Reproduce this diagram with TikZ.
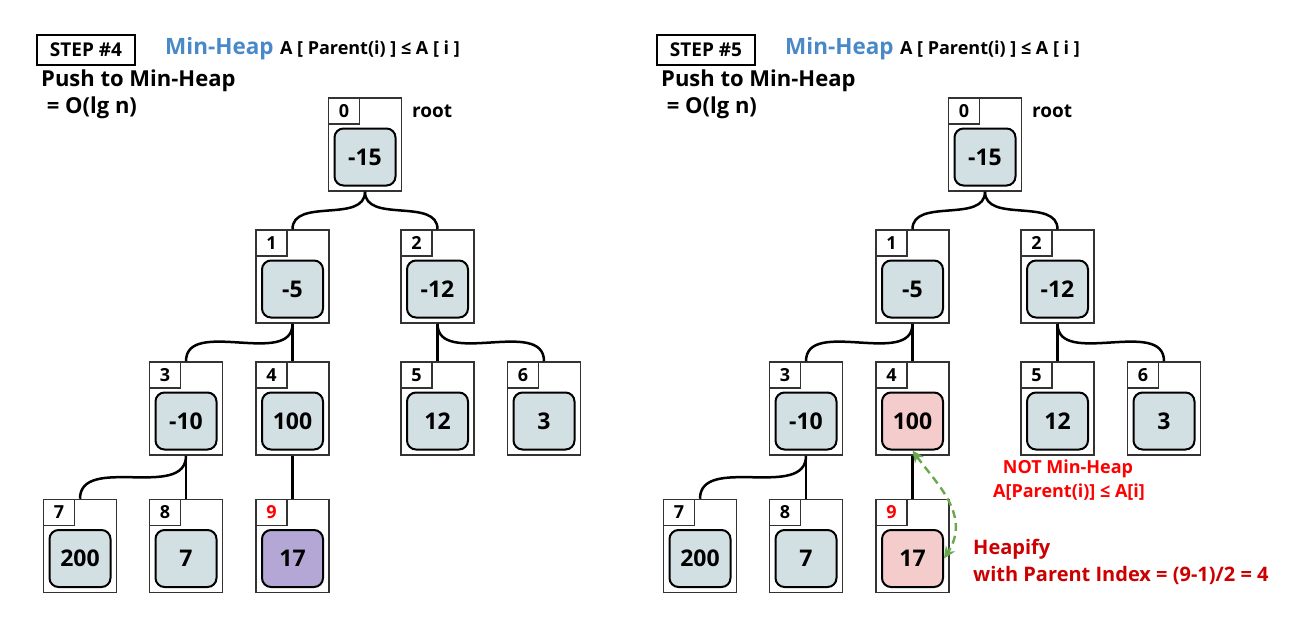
\documentclass[tikz,border=0pt]{standalone}
\usepackage{fontspec}
\setmainfont{Open Sans}
\usetikzlibrary{positioning,arrows.meta}

\definecolor{cellgray}{HTML}{D2DFE3}
\definecolor{pushed}{HTML}{B4A7D6}
\definecolor{swapped}{HTML}{F4CCCC}
\definecolor{heapblue}{HTML}{4A89C8}
\definecolor{heapred}{HTML}{CC0000}
\definecolor{heapgreen}{HTML}{6AA84F}

\tikzset{
  cell/.style={draw=black!80, line width=1.5pt, minimum width=73pt, minimum height=93pt, inner sep=0pt},
  idx/.style={draw=black!80, line width=1.5pt, minimum width=31pt, minimum height=26pt, inner sep=0pt, anchor=north west, font=\bfseries\fontsize{18}{18}\selectfont},
  val/.style={draw, line width=2pt, rounded corners=9pt, minimum width=61pt, minimum height=57pt, inner sep=0pt, font=\bfseries\fontsize{23}{23}\selectfont},
  link/.style={line width=2.5pt},
  stepbox/.style={draw, line width=1.5pt, minimum width=98pt, minimum height=30pt, font=\bfseries\fontsize{19}{19}\selectfont},
  title/.style={text=heapblue, font=\bfseries\fontsize{22.5}{22.5}\selectfont, inner sep=0pt},
  rule/.style={font=\bfseries\fontsize{18}{18}\selectfont, inner sep=0pt},
  big/.style={font=\bfseries\fontsize{22}{26}\selectfont, inner sep=0pt, anchor=west},
  note/.style={font=\bfseries\fontsize{18}{18}\selectfont, inner sep=0pt},
  fix/.style={text=heapred, font=\bfseries\fontsize{20}{20}\selectfont, inner sep=0pt, anchor=west},
}

\begin{document}
\begin{tikzpicture}[x=1pt, y=-1pt]
\useasboundingbox (0,0) rectangle (1313,634);

% STEP #4
\node[stepbox] (s4) at (86,50) {STEP \#4};
\node[title, anchor=west] (t4) at (165,49) {Min-Heap};
\node[rule, anchor=base west] at ([xshift=6pt]t4.base east) {A [ Parent(i) ] ≤ A [ i ]};
\node[big] (p4) at (41,81) {Push to Min-Heap};
\node[big] (o4) at (41,108) {\ = O(lg n)};

\foreach \n/\x/\y/\v/\c/\ic in {0/365/144.5/-15/cellgray/black, 1/292.5/276.5/-5/cellgray/black,
    2/437.5/276.5/-12/cellgray/black, 3/186/408.5/-10/cellgray/black, 4/292.5/408.5/100/cellgray/black,
    5/437.5/408.5/12/cellgray/black, 6/544/408.5/3/cellgray/black, 7/80/546/200/cellgray/black,
    8/186/546/7/cellgray/black, 9/292.5/546/17/pushed/red} {
  \node[cell] (a\n) at (\x,\y) {};
  \node[idx, text=\ic] at (a\n.north west) {\n};
  \node[val, fill=\c] (a\n v) at ([yshift=-12.5pt]a\n.center) {\v};
}
\node[rule, anchor=west, font=\bfseries\fontsize{19}{19}\selectfont] at (412,111) {root};

\draw[link] (a0.south) to[out=-90,in=90] (a1.north);
\draw[link] (a0.south) to[out=-90,in=90] (a2.north);
\draw[link] (a1.south) to[out=-90,in=90] (a3.north);
\draw[link] (a1.south) to[out=-90,in=90] (a4.north);
\draw[link] (a2.south) to[out=-90,in=90] (a5.north);
\draw[link] (a2.south) to[out=-90,in=90] (a6.north);
\draw[link] (a3.south) to[out=-90,in=90] (a7.north);
\draw[link] (a3.south) to[out=-90,in=90] (a8.north);
\draw[link] (a4.south) to[out=-90,in=90] (a9.north);

% STEP #5
\node[stepbox] (s5) at (706,50) {STEP \#5};
\node[title, anchor=west] (t5) at (785,49) {Min-Heap};
\node[rule, anchor=base west] at ([xshift=6pt]t5.base east) {A [ Parent(i) ] ≤ A [ i ]};
\node[big] (p5) at (661,81) {Push to Min-Heap};
\node[big] (o5) at (661,108) {\ = O(lg n)};

\foreach \n/\x/\y/\v/\c/\ic in {0/985/144.5/-15/cellgray/black, 1/912.5/276.5/-5/cellgray/black,
    2/1057.5/276.5/-12/cellgray/black, 3/806/408.5/-10/cellgray/black, 4/912.5/408.5/100/swapped/black,
    5/1057.5/408.5/12/cellgray/black, 6/1164/408.5/3/cellgray/black, 7/700/546/200/cellgray/black,
    8/806/546/7/cellgray/black, 9/912.5/546/17/swapped/red} {
  \node[cell] (b\n) at (\x,\y) {};
  \node[idx, text=\ic] at (b\n.north west) {\n};
  \node[val, fill=\c] (b\n v) at ([yshift=-12.5pt]b\n.center) {\v};
}
\node[rule, anchor=west, font=\bfseries\fontsize{19}{19}\selectfont] at (1032,111) {root};

\draw[link] (b0.south) to[out=-90,in=90] (b1.north);
\draw[link] (b0.south) to[out=-90,in=90] (b2.north);
\draw[link] (b1.south) to[out=-90,in=90] (b3.north);
\draw[link] (b1.south) to[out=-90,in=90] (b4.north);
\draw[link] (b2.south) to[out=-90,in=90] (b5.north);
\draw[link] (b2.south) to[out=-90,in=90] (b6.north);
\draw[link] (b3.south) to[out=-90,in=90] (b7.north);
\draw[link] (b3.south) to[out=-90,in=90] (b8.north);
\draw[link] (b4.south) to[out=-90,in=90] (b9.north);

\draw[heapgreen, line width=2.4pt, dash pattern=on 8pt off 5pt, {Stealth[length=12pt,width=11pt]}-{Stealth[length=12pt,width=11pt]}]
  (b4v.south) .. controls (935,482) and (972,515) .. (b9v.east);

\node[note, text=red] (n1) at (1068,469) {NOT Min-Heap};
\node[note, text=red] (n2) at (1069,492) {A[Parent(i)] ≤ A[i]};
\node[fix] (h1) at (973,549) {Heapify};
\node[fix] (h2) at (973,575) {with Parent Index = (9-1)/2 = 4};
\end{tikzpicture}
\end{document}
